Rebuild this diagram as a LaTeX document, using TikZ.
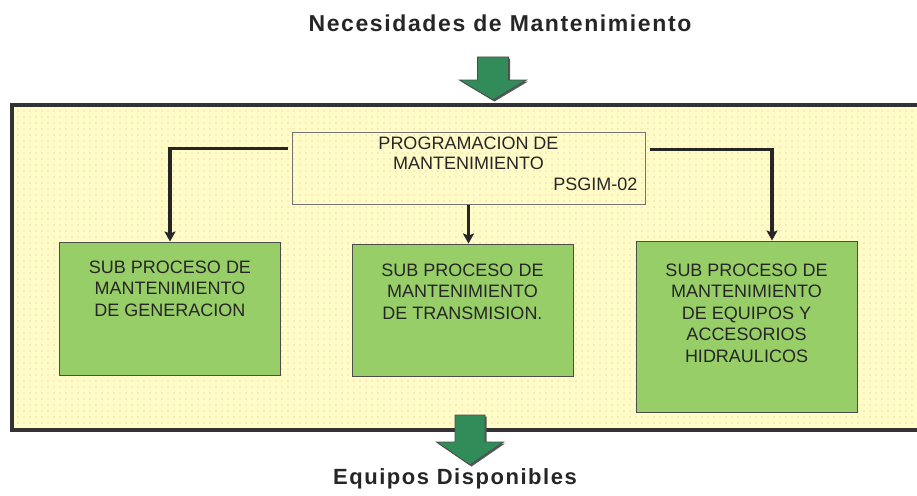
\documentclass[tikz,border=0pt]{standalone}
\usepackage{fontspec}
\setmainfont{Liberation Sans}
\newfontfamily\titlefont[LetterSpace=7]{Liberation Sans}
\usetikzlibrary{arrows.meta,calc,positioning,patterns.meta}

\definecolor{paneyellow}{RGB}{255,252,200}
\definecolor{panedots}{RGB}{238,170,130}
\definecolor{subgreen}{RGB}{152,206,104}
\definecolor{arrowgreen}{RGB}{50,140,90}

\tikzset{
  pane/.style={draw=black!80, line width=3.5pt, preaction={fill=paneyellow},
    pattern={Dots[distance=6pt,radius=0.7pt]}, pattern color=panedots},
  progbox/.style={draw=black!55, line width=1pt, minimum width=353pt, minimum height=72pt},
  subbox/.style={draw=black!70, line width=1pt, fill=subgreen, minimum width=221pt},
  subtext/.style={align=center, inner sep=0pt, text=black!85, font=\fontsize{18}{21.5}\selectfont},
  conn/.style={draw=black!85, line width=3.5pt, -{Stealth[length=10pt,width=11pt,inset=2pt]}},
  bigarrow/.style={fill=arrowgreen, draw=black!70, line width=0.8pt,
    preaction={fill=black!65, transform canvas={xshift=1.5pt,yshift=-1.5pt}}},
  heading/.style={inner sep=0pt, anchor=base, text=black!85, font=\titlefont\bfseries\fontsize{22}{26}\selectfont}
}

\begin{document}
\begin{tikzpicture}[x=1pt,y=-1pt]
	\useasboundingbox (0,0) rectangle (917,495);
	\clip (0,0) rectangle (917,495);
	% frame of the process
	\draw[pane] (12,105) rectangle (925,430);
	\node[progbox] (prog) at (468.5,168) {};
	\node[subtext, font=\fontsize{18}{20}\selectfont, below=5pt of prog.north] (progtxt) {PROGRAMACION DE\\MANTENIMIENTO};
	\node[subtext, anchor=base east] (progcode) at ([xshift=-8pt,yshift=14pt]prog.south east) {PSGIM-02};
	% sub processes
	\node[subbox, minimum height=133pt] (gen) at (170,308.5) {};
	\node[subbox, minimum height=132pt] (trans) at (462.5,310) {};
	\node[subbox, minimum height=171pt] (hid) at (746.5,326.5) {};
	\node[subtext, below=19pt of gen.north] (gentxt) {SUB PROCESO DE\\MANTENIMIENTO\\DE GENERACION};
	\node[subtext, below=20pt of trans.north] (transtxt) {SUB PROCESO DE\\MANTENIMIENTO\\DE TRANSMISION.};
	\node[subtext, below=23pt of hid.north] (hidtxt) {SUB PROCESO DE\\MANTENIMIENTO\\DE EQUIPOS Y\\ACCESORIOS\\HIDRAULICOS};
	\draw[conn] ($(prog.north west)+(-4,17)$) -| (gen.north);
	\draw[conn, line width=3pt] (prog.south) -- (prog.south |- trans.north);
	\draw[conn] ($(prog.north east)+(4,18)$) -| ([xshift=25.5pt]hid.north);
	% input and output
	\node[heading, font=\titlefont\bfseries\fontsize{23}{27}\selectfont] (needs) at (500,32) {Necesidades de Mantenimiento};
	\node[heading] (ready) at (455,484) {Equipos Disponibles};
	\draw[bigarrow] (477.5,57) -- (508.5,57) -- (508.5,80) -- (526.5,80) -- (493,100) -- (459.5,80) -- (477.5,80) -- cycle;
	\draw[bigarrow] (455,415) -- (485,415) -- (485,442) -- (503.5,442) -- (470,465) -- (436.5,442) -- (455,442) -- cycle;
\end{tikzpicture}
\end{document}
